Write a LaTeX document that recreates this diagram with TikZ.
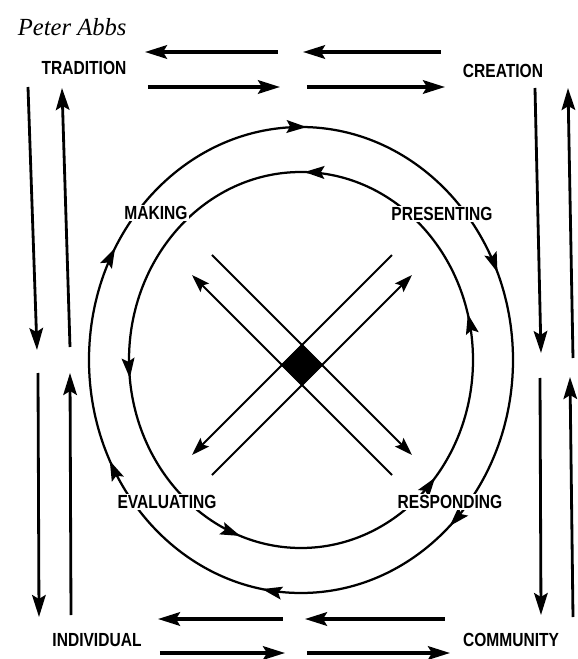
\documentclass[tikz,border=0pt]{standalone}
\usepackage{fontspec}
\usetikzlibrary{arrows.meta,decorations.markings}
\newfontfamily\lblfont{Liberation Sans}[FakeStretch=0.82]
\newfontfamily\namefont{Liberation Serif}

\begin{document}
\begin{tikzpicture}[
  word/.style={font=\lblfont\fontsize{13.5}{15}\selectfont\bfseries, inner sep=1pt},
  stage/.style={word, fill=white},
  bigtip/.tip={Stealth[length=5.5mm, width=3.4mm, inset=1mm]},
  ringtip/.tip={Stealth[length=5mm, width=3.2mm, inset=0.9mm]},
  harr/.style={-bigtip, line width=2.4pt},
  varr/.style={-bigtip, line width=2pt},
  xarr/.style={-{Stealth[length=4.5mm, width=3mm, inset=0.8mm]}, line width=1.5pt},
  outring/.style={line width=1.6pt, postaction={decorate}, decoration={markings,
    mark=at position 0.064 with {\arrowreversed{ringtip}},
    mark=at position 0.246 with {\arrowreversed{ringtip}},
    mark=at position 0.417 with {\arrowreversed{ringtip}},
    mark=at position 0.574 with {\arrowreversed{ringtip}},
    mark=at position 0.722 with {\arrowreversed{ringtip}},
    mark=at position 0.870 with {\arrowreversed{ringtip}}}},
  inring/.style={line width=1.6pt, postaction={decorate}, decoration={markings,
    mark=at position 0.041 with {\arrow{ringtip}},
    mark=at position 0.247 with {\arrow{ringtip}},
    mark=at position 0.516 with {\arrow{ringtip}},
    mark=at position 0.695 with {\arrow{ringtip}},
    mark=at position 0.889 with {\arrow{ringtip}}}}
]
\useasboundingbox (-7.525,-7.475) rectangle (6.9,9.0);

\node[font=\namefont\itshape\fontsize{17.5}{20}\selectfont] (author) at (-5.72,8.325) {Peter Abbs};

\node[word] (tradition)  at (-5.425,7.3)  {TRADITION};
\node[word] (creation)   at (5.05,7.225)  {CREATION};
\node[word] (individual) at (-5.1,-7.0)   {INDIVIDUAL};
\node[word] (community)  at (5.25,-7.0)   {COMMUNITY};

\coordinate (t1) at (-3.9,7.7);     \coordinate (t2) at (-0.575,7.7);
\coordinate (t3) at (0.05,7.7);     \coordinate (t4) at (3.5,7.7);
\coordinate (t5) at (-3.825,6.825); \coordinate (t6) at (-0.525,6.825);
\coordinate (t7) at (0.15,6.825);   \coordinate (t8) at (3.6,6.825);
\draw[harr] (t2) -- (t1);
\draw[harr] (t4) -- (t3);
\draw[harr] (t5) -- (t6);
\draw[harr] (t7) -- (t8);

\coordinate (b1) at (-3.575,-6.475); \coordinate (b2) at (-0.45,-6.475);
\coordinate (b3) at (0.1,-6.475);    \coordinate (b4) at (3.6,-6.475);
\coordinate (b5) at (-3.525,-7.325); \coordinate (b6) at (-0.4,-7.325);
\coordinate (b7) at (0.15,-7.325);   \coordinate (b8) at (3.725,-7.325);
\draw[harr] (b2) -- (b1);
\draw[harr] (b4) -- (b3);
\draw[harr] (b5) -- (b6);
\draw[harr] (b7) -- (b8);

\coordinate (l1) at (-6.825,6.825); \coordinate (l2) at (-6.6,0.25);
\coordinate (l3) at (-5.775,0.325); \coordinate (l4) at (-5.975,6.8);
\coordinate (l5) at (-6.575,-0.325); \coordinate (l6) at (-6.55,-6.425);
\coordinate (l7) at (-5.75,-6.375); \coordinate (l8) at (-5.775,-0.325);
\draw[varr] (l1) -- (l2);
\draw[varr] (l3) -- (l4);
\draw[varr] (l5) -- (l6);
\draw[varr] (l7) -- (l8);

\coordinate (r1) at (5.85,6.8);    \coordinate (r2) at (6.0,0.175);
\coordinate (r3) at (6.8,0.05);    \coordinate (r4) at (6.675,6.8);
\coordinate (r5) at (5.975,-0.45); \coordinate (r6) at (6.0,-6.375);
\coordinate (r7) at (6.8,-6.425);  \coordinate (r8) at (6.725,-0.425);
\draw[varr] (r1) -- (r2);
\draw[varr] (r3) -- (r4);
\draw[varr] (r5) -- (r6);
\draw[varr] (r7) -- (r8);

\draw[outring] (0,0) ellipse [x radius=5.3, y radius=5.825];
\draw[inring]  (0,0) ellipse [x radius=4.3, y radius=4.7];

\coordinate (hub) at (0.025,-0.125);
\begin{scope}[shift={(hub)}]
  \fill (0,0.52) -- (0.52,0) -- (0,-0.52) -- (-0.52,0) -- cycle;
  \foreach \sx/\sy in {1/-1,-1/1,-1/-1,1/1}
    \draw[xarr] (-2.25*\sx,-2.75*\sy) -- (2.75*\sx,2.25*\sy);
\end{scope}

\node[stage] (making)     at (-3.625,3.675) {MAKING};
\node[stage] (presenting) at (3.525,3.65)   {PRESENTING};
\node[stage] (evaluating) at (-3.35,-3.55)  {EVALUATING};
\node[stage] (responding) at (3.725,-3.55)  {RESPONDING};
\end{tikzpicture}
\end{document}
